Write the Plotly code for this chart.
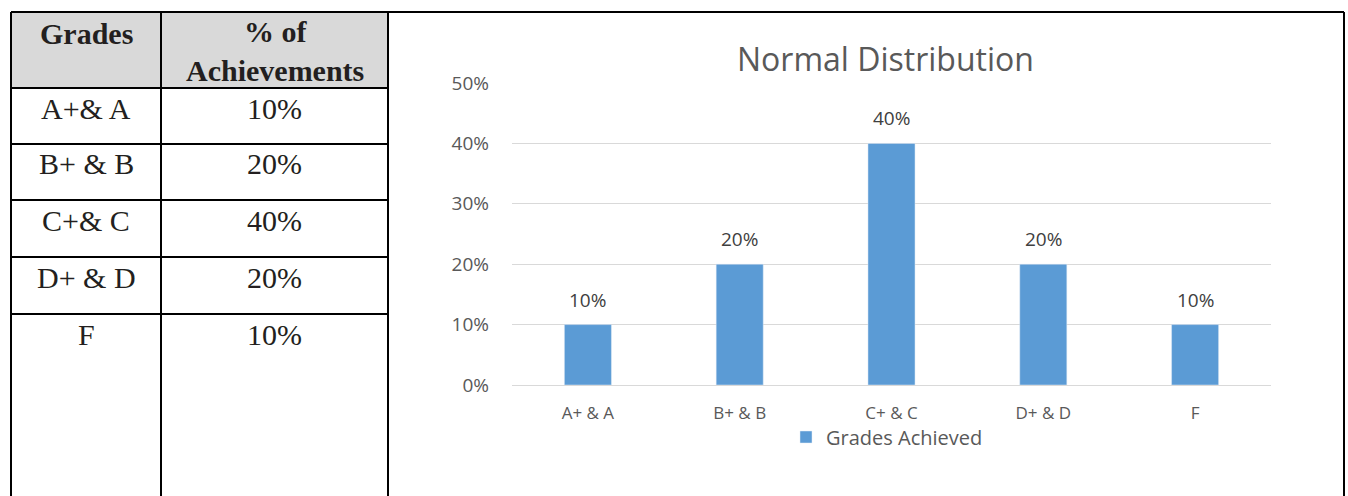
import plotly.graph_objects as go

# ---- data ----
table_header = ["Grades", "% of<br>Achievements"]
table_grades = ["A+& A", "B+ & B", "C+& C", "D+ & D", "F"]
table_pcts = ["10%", "20%", "40%", "20%", "10%"]

categories = ["A+ & A", "B+ & B", "C+ & C", "D+ & D", "F"]
values = [0.10, 0.20, 0.40, 0.20, 0.10]
series_name = "Grades Achieved"
chart_title = "Normal Distribution"

W, H = 1348, 496

def px(x):
    return x / W

def py(y):
    return 1 - y / H

fig = go.Figure()
fig.add_trace(go.Bar(
    x=categories, y=values, name=series_name,
    marker=dict(color="#5b9bd5"),
    showlegend=True,
))

shapes = []
shapes.append(dict(type="rect", xref="paper", yref="paper",
                   x0=px(11), x1=px(388), y0=py(88), y1=py(12),
                   fillcolor="#d9d9d9", line=dict(width=0), layer="below"))
lw = 2
shapes.append(dict(type="line", xref="paper", yref="paper", x0=px(11), x1=px(1344), y0=py(12), y1=py(12), line=dict(color="black", width=lw)))
for xv in [11, 161, 388, 1344]:
    shapes.append(dict(type="line", xref="paper", yref="paper", x0=px(xv), x1=px(xv), y0=py(12), y1=py(500), line=dict(color="black", width=lw)))
row_lines = [88, 144, 200, 257, 314]
for yv in row_lines:
    shapes.append(dict(type="line", xref="paper", yref="paper", x0=px(11), x1=px(388), y0=py(yv), y1=py(yv), line=dict(color="black", width=lw)))

annotations = []
serif = "Liberation Serif"
tfs = 30
annotations.append(dict(text="<b>" + table_header[0] + "</b>", x=px(86), y=py(33), xref="paper", yref="paper",
                        showarrow=False, font=dict(family=serif, size=tfs, color="#231f20"), xanchor="center", yanchor="middle"))
annotations.append(dict(text="<b>" + table_header[1] + "</b>", x=px(275), y=py(51), xref="paper", yref="paper",
                        showarrow=False, font=dict(family=serif, size=tfs, color="#231f20"), xanchor="center", yanchor="middle"))
for i, (g, p) in enumerate(zip(table_grades, table_pcts)):
    yc = row_lines[i] + 20
    annotations.append(dict(text=g, x=px(86), y=py(yc), xref="paper", yref="paper", showarrow=False,
                            font=dict(family=serif, size=tfs, color="#231f20"), xanchor="center", yanchor="middle"))
    annotations.append(dict(text=p, x=px(274), y=py(yc), xref="paper", yref="paper", showarrow=False,
                            font=dict(family=serif, size=tfs, color="#231f20"), xanchor="center", yanchor="middle"))
annotations.append(dict(text=chart_title, x=px(885), y=py(58), xref="paper", yref="paper", showarrow=False,
                        font=dict(family="Open Sans", size=32, color="#595959"), xanchor="center", yanchor="middle"))
# data labels above bars
for c, v in zip(categories, values):
    annotations.append(dict(text=f"{v:.0%}", x=c, y=v, xref="x", yref="y", showarrow=False,
                            xanchor="center", yanchor="bottom", yshift=10,
                            font=dict(family="Open Sans", size=19, color="#404040")))

fig.update_layout(
    width=W, height=H, margin=dict(l=0, r=0, t=0, b=0, autoexpand=False),
    paper_bgcolor="white", plot_bgcolor="white",
    font=dict(family="Open Sans", color="#595959"),
    shapes=shapes, annotations=annotations,
    bargap=0.69,
    xaxis=dict(domain=[px(512), px(1271)], showgrid=False, showline=True, linecolor="#d9d9d9", linewidth=1,
               tickfont=dict(size=17, color="#595959"), ticks="", ticklabelstandoff=13, automargin=False),
    yaxis=dict(domain=[py(385), py(83)], range=[0, 0.5], dtick=0.1, tickformat=".0%",
               showgrid=True, gridcolor="#d9d9d9", gridwidth=1, zeroline=False, showline=False,
               tickfont=dict(size=19, color="#595959"), ticks="", ticklabelstandoff=22, automargin=False),
    legend=dict(orientation="h", x=px(887), y=py(437), xanchor="center", yanchor="middle",
                font=dict(size=20, color="#595959"), itemwidth=30, bgcolor="rgba(0,0,0,0)"),
)

fig.write_html("out.html", config={"displayModeBar": False},
               post_script="document.body.style.margin='0';document.body.style.overflow='hidden';")
